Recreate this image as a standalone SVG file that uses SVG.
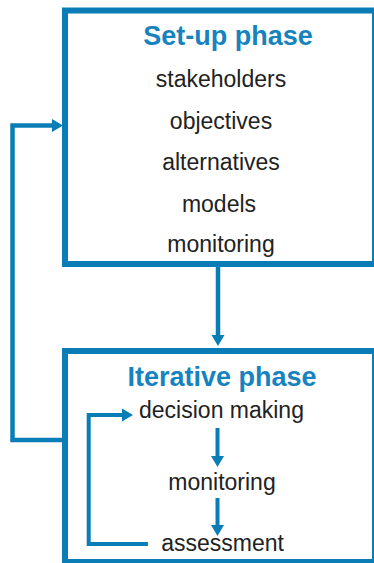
<svg xmlns="http://www.w3.org/2000/svg" width="374" height="563" viewBox="0 0 374 563">
<style>
.box{fill:#fff;stroke:#0a7db6;stroke-width:6}
.title{font-family:"Liberation Sans",Arial,sans-serif;font-weight:bold;font-size:27px;fill:#1683bf;text-anchor:middle}
.item{font-family:"Liberation Sans",Arial,sans-serif;font-size:23px;fill:#222;text-anchor:middle}
.conn{fill:none;stroke:#0a7db6;stroke-width:4.5;stroke-linejoin:miter}
.thin{fill:none;stroke:#0a7db6;stroke-width:4}
</style>
<defs>
<marker id="ah" markerUnits="userSpaceOnUse" markerWidth="12" markerHeight="14" refX="0" refY="6.5" orient="auto" viewBox="0 0 12 13">
<path d="M0,0 L11,6.5 L0,13 z" fill="#0a7db6"/>
</marker>
</defs>
<rect width="374" height="563" fill="#fff"/>
<g id="setup">
<rect class="box" x="65" y="10.5" width="310" height="253.5"/>
<text class="title" x="228" y="45">Set-up phase</text>
<text class="item" x="221" y="87">stakeholders</text>
<text class="item" x="221" y="128.5">objectives</text>
<text class="item" x="221" y="170">alternatives</text>
<text class="item" x="219" y="211.5">models</text>
<text class="item" x="221" y="252">monitoring</text>
</g>
<g id="iterative">
<rect class="box" x="65" y="351" width="310" height="211"/>
<text class="title" x="222" y="386">Iterative phase</text>
<text class="item" x="221.5" y="418">decision making</text>
<text class="item" x="222" y="490">monitoring</text>
<text class="item" x="222.5" y="551">assessment</text>
</g>
<g id="connectors">
<path class="conn" d="M218,267 V335" marker-end="url(#ah)"/>
<path class="conn" d="M62,440 H12.5 V125.5 H52" marker-end="url(#ah)"/>
<path class="thin" d="M148,544 H88.7 V415 H122" marker-end="url(#ah)"/>
<path class="thin" d="M217.5,428 V456" marker-end="url(#ah)"/>
<path class="thin" d="M217.5,498 V525" marker-end="url(#ah)"/>
</g>
</svg>
